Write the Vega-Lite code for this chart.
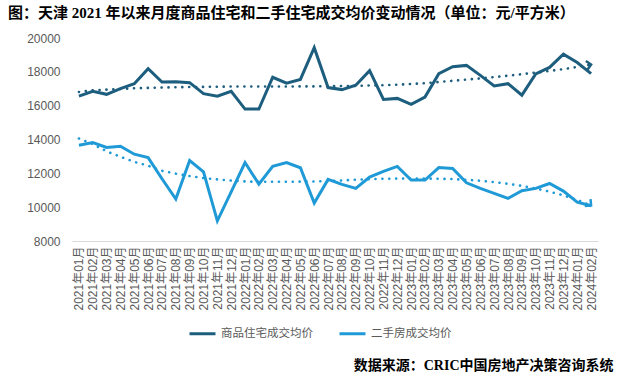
{
  "$schema": "https://vega.github.io/schema/vega-lite/v6.json",
  "width": 526,
  "height": 203,
  "autosize": {"type": "none"},
  "padding": {"left": 72, "top": 38, "right": 24, "bottom": 137},
  "background": "white",
  "title": {
    "text": "图：天津 2021 年以来月度商品住宅和二手住宅成交均价变动情况（单位：元/平方米）",
    "anchor": "start",
    "frame": "group",
    "dx": -64,
    "offset": 11,
    "font": "Liberation Serif, Noto Sans CJK SC",
    "fontSize": 15,
    "fontWeight": "bold",
    "color": "#000000"
  },
  "config": {
    "view": {"stroke": null},
    "axis": {"grid": false, "labelFont": "Liberation Sans, Noto Sans CJK SC", "labelColor": "#595959", "labelFontSize": 12, "ticks": false},
    "axisY": {"labelOverlap": false, "values": [8000, 10000, 12000, 14000, 16000, 18000, 20000], "format": "d", "domain": false, "labelPadding": 12, "title": null}
  },
  "data": {
    "values": [
      {"m": "2021年01月", "s": "商品住宅成交均价", "v": 16560, "t": 16810},
      {"m": "2021年02月", "s": "商品住宅成交均价", "v": 16850, "t": 16910},
      {"m": "2021年03月", "s": "商品住宅成交均价", "v": 16670, "t": 16950},
      {"m": "2021年04月", "s": "商品住宅成交均价", "v": 17010, "t": 16990},
      {"m": "2021年05月", "s": "商品住宅成交均价", "v": 17300, "t": 17030},
      {"m": "2021年06月", "s": "商品住宅成交均价", "v": 18190, "t": 17050},
      {"m": "2021年07月", "s": "商品住宅成交均价", "v": 17400, "t": 17070},
      {"m": "2021年08月", "s": "商品住宅成交均价", "v": 17420, "t": 17090},
      {"m": "2021年09月", "s": "商品住宅成交均价", "v": 17360, "t": 17100},
      {"m": "2021年10月", "s": "商品住宅成交均价", "v": 16710, "t": 17110},
      {"m": "2021年11月", "s": "商品住宅成交均价", "v": 16560, "t": 17120},
      {"m": "2021年12月", "s": "商品住宅成交均价", "v": 16850, "t": 17130},
      {"m": "2022年01月", "s": "商品住宅成交均价", "v": 15800, "t": 17130},
      {"m": "2022年02月", "s": "商品住宅成交均价", "v": 15800, "t": 17130},
      {"m": "2022年03月", "s": "商品住宅成交均价", "v": 17680, "t": 17130},
      {"m": "2022年04月", "s": "商品住宅成交均价", "v": 17330, "t": 17130},
      {"m": "2022年05月", "s": "商品住宅成交均价", "v": 17550, "t": 17140},
      {"m": "2022年06月", "s": "商品住宅成交均价", "v": 19430, "t": 17140},
      {"m": "2022年07月", "s": "商品住宅成交均价", "v": 17070, "t": 17150},
      {"m": "2022年08月", "s": "商品住宅成交均价", "v": 16950, "t": 17160},
      {"m": "2022年09月", "s": "商品住宅成交均价", "v": 17210, "t": 17170},
      {"m": "2022年10月", "s": "商品住宅成交均价", "v": 18070, "t": 17190},
      {"m": "2022年11月", "s": "商品住宅成交均价", "v": 16370, "t": 17210},
      {"m": "2022年12月", "s": "商品住宅成交均价", "v": 16430, "t": 17240},
      {"m": "2023年01月", "s": "商品住宅成交均价", "v": 16080, "t": 17280},
      {"m": "2023年02月", "s": "商品住宅成交均价", "v": 16510, "t": 17330},
      {"m": "2023年03月", "s": "商品住宅成交均价", "v": 17890, "t": 17400},
      {"m": "2023年04月", "s": "商品住宅成交均价", "v": 18300, "t": 17470},
      {"m": "2023年05月", "s": "商品住宅成交均价", "v": 18380, "t": 17540},
      {"m": "2023年06月", "s": "商品住宅成交均价", "v": 17790, "t": 17610},
      {"m": "2023年07月", "s": "商品住宅成交均价", "v": 17170, "t": 17690},
      {"m": "2023年08月", "s": "商品住宅成交均价", "v": 17300, "t": 17770},
      {"m": "2023年09月", "s": "商品住宅成交均价", "v": 16620, "t": 17860},
      {"m": "2023年10月", "s": "商品住宅成交均价", "v": 17880, "t": 17950},
      {"m": "2023年11月", "s": "商品住宅成交均价", "v": 18260, "t": 18050},
      {"m": "2023年12月", "s": "商品住宅成交均价", "v": 19040, "t": 18160},
      {"m": "2024年01月", "s": "商品住宅成交均价", "v": 18550, "t": 18290},
      {"m": "2024年02月", "s": "商品住宅成交均价", "v": 17890, "t": 18430},
      {"m": "2021年01月", "s": "二手房成交均价", "v": 13660, "t": 14060},
      {"m": "2021年02月", "s": "二手房成交均价", "v": 13820, "t": 13730},
      {"m": "2021年03月", "s": "二手房成交均价", "v": 13530, "t": 13300},
      {"m": "2021年04月", "s": "二手房成交均价", "v": 13600, "t": 12980},
      {"m": "2021年05月", "s": "二手房成交均价", "v": 13130, "t": 12680},
      {"m": "2021年06月", "s": "二手房成交均价", "v": 12930, "t": 12450},
      {"m": "2021年07月", "s": "二手房成交均价", "v": 11680, "t": 12150},
      {"m": "2021年08月", "s": "二手房成交均价", "v": 10480, "t": 11980},
      {"m": "2021年09月", "s": "二手房成交均价", "v": 12760, "t": 11840},
      {"m": "2021年10月", "s": "二手房成交均价", "v": 12090, "t": 11720},
      {"m": "2021年11月", "s": "二手房成交均价", "v": 9190, "t": 11640},
      {"m": "2021年12月", "s": "二手房成交均价", "v": 10910, "t": 11570},
      {"m": "2022年01月", "s": "二手房成交均价", "v": 12640, "t": 11520},
      {"m": "2022年02月", "s": "二手房成交均价", "v": 11360, "t": 11500},
      {"m": "2022年03月", "s": "二手房成交均价", "v": 12420, "t": 11500},
      {"m": "2022年04月", "s": "二手房成交均价", "v": 12640, "t": 11500},
      {"m": "2022年05月", "s": "二手房成交均价", "v": 12330, "t": 11510},
      {"m": "2022年06月", "s": "二手房成交均价", "v": 10240, "t": 11520},
      {"m": "2022年07月", "s": "二手房成交均价", "v": 11640, "t": 11540},
      {"m": "2022年08月", "s": "二手房成交均价", "v": 11350, "t": 11580},
      {"m": "2022年09月", "s": "二手房成交均价", "v": 11110, "t": 11620},
      {"m": "2022年10月", "s": "二手房成交均价", "v": 11780, "t": 11650},
      {"m": "2022年11月", "s": "二手房成交均价", "v": 12120, "t": 11680},
      {"m": "2022年12月", "s": "二手房成交均价", "v": 12410, "t": 11690},
      {"m": "2023年01月", "s": "二手房成交均价", "v": 11600, "t": 11690},
      {"m": "2023年02月", "s": "二手房成交均价", "v": 11600, "t": 11690},
      {"m": "2023年03月", "s": "二手房成交均价", "v": 12340, "t": 11680},
      {"m": "2023年04月", "s": "二手房成交均价", "v": 12290, "t": 11660},
      {"m": "2023年05月", "s": "二手房成交均价", "v": 11440, "t": 11620},
      {"m": "2023年06月", "s": "二手房成交均价", "v": 11110, "t": 11560},
      {"m": "2023年07月", "s": "二手房成交均价", "v": 10820, "t": 11480},
      {"m": "2023年08月", "s": "二手房成交均价", "v": 10520, "t": 11380},
      {"m": "2023年09月", "s": "二手房成交均价", "v": 10970, "t": 11260},
      {"m": "2023年10月", "s": "二手房成交均价", "v": 11110, "t": 11100},
      {"m": "2023年11月", "s": "二手房成交均价", "v": 11400, "t": 10920},
      {"m": "2023年12月", "s": "二手房成交均价", "v": 10950, "t": 10700},
      {"m": "2024年01月", "s": "二手房成交均价", "v": 10300, "t": 10430},
      {"m": "2024年02月", "s": "二手房成交均价", "v": 10080, "t": 10100}
    ]
  },
  "encoding": {
    "x": {
      "field": "m",
      "type": "ordinal",
      "sort": null,
      "scale": {"type": "point", "padding": 0.5},
      "axis": {
        "labelAngle": -90,
        "labelPadding": 5,
        "domainColor": "#d9d9d9",
        "domainWidth": 1,
        "title": "数据来源：CRIC中国房地产决策咨询系统",
        "titleFont": "Liberation Serif, Noto Sans CJK SC",
        "titleFontSize": 14,
        "titleFontWeight": "bold",
        "titleColor": "#000000",
        "titleAngle": 0,
        "titleAlign": "right",
        "titleBaseline": "middle",
        "titleX": 541,
        "titleY": 124
      }
    }
  },
  "layer": [
    {
      "mark": {"type": "line", "strokeWidth": 3, "strokeJoin": "miter"},
      "encoding": {
        "y": {
          "field": "v",
          "type": "quantitative",
          "scale": {"domain": [8000, 20000], "nice": false, "zero": false}
        },
        "color": {
          "field": "s",
          "type": "nominal",
          "scale": {"domain": ["商品住宅成交均价", "二手房成交均价"], "range": ["#1d5e7e", "#1f9ad6"]},
          "legend": {
            "orient": "none",
            "legendX": 116,
            "legendY": 281,
            "direction": "horizontal",
            "title": null,
            "symbolType": "stroke",
            "symbolSize": 676,
            "symbolStrokeWidth": 3,
            "labelFont": "Noto Sans CJK SC",
            "labelFontSize": 11.5,
            "labelColor": "#595959",
            "labelOffset": 4,
            "columnPadding": 20
          }
        }
      }
    },
    {
      "mark": {"type": "line", "strokeWidth": 2.6, "strokeCap": "round", "strokeDash": [0.1, 6.8]},
      "encoding": {
        "y": {"field": "t", "type": "quantitative"},
        "color": {"field": "s", "type": "nominal", "legend": null}
      }
    },
    {
      "transform": [{"filter": "datum.m == '2024年02月' && datum.s == '商品住宅成交均价'"}],
      "mark": {"type": "point", "shape": "M -1 -1 L 0 0 L -1 1", "filled": false, "stroke": "#1d5e7e", "strokeWidth": 2.5, "size": 80, "angle": -10, "opacity": 1},
      "encoding": {"y": {"field": "t", "type": "quantitative"}}
    },
    {
      "transform": [{"filter": "datum.m == '2024年02月' && datum.s == '二手房成交均价'"}],
      "mark": {"type": "point", "shape": "M -1 -1 L 0 0 L -1 1", "filled": false, "stroke": "#1f9ad6", "strokeWidth": 2.5, "size": 80, "angle": 40, "opacity": 1},
      "encoding": {"y": {"field": "t", "type": "quantitative"}}
    }
  ]
}
